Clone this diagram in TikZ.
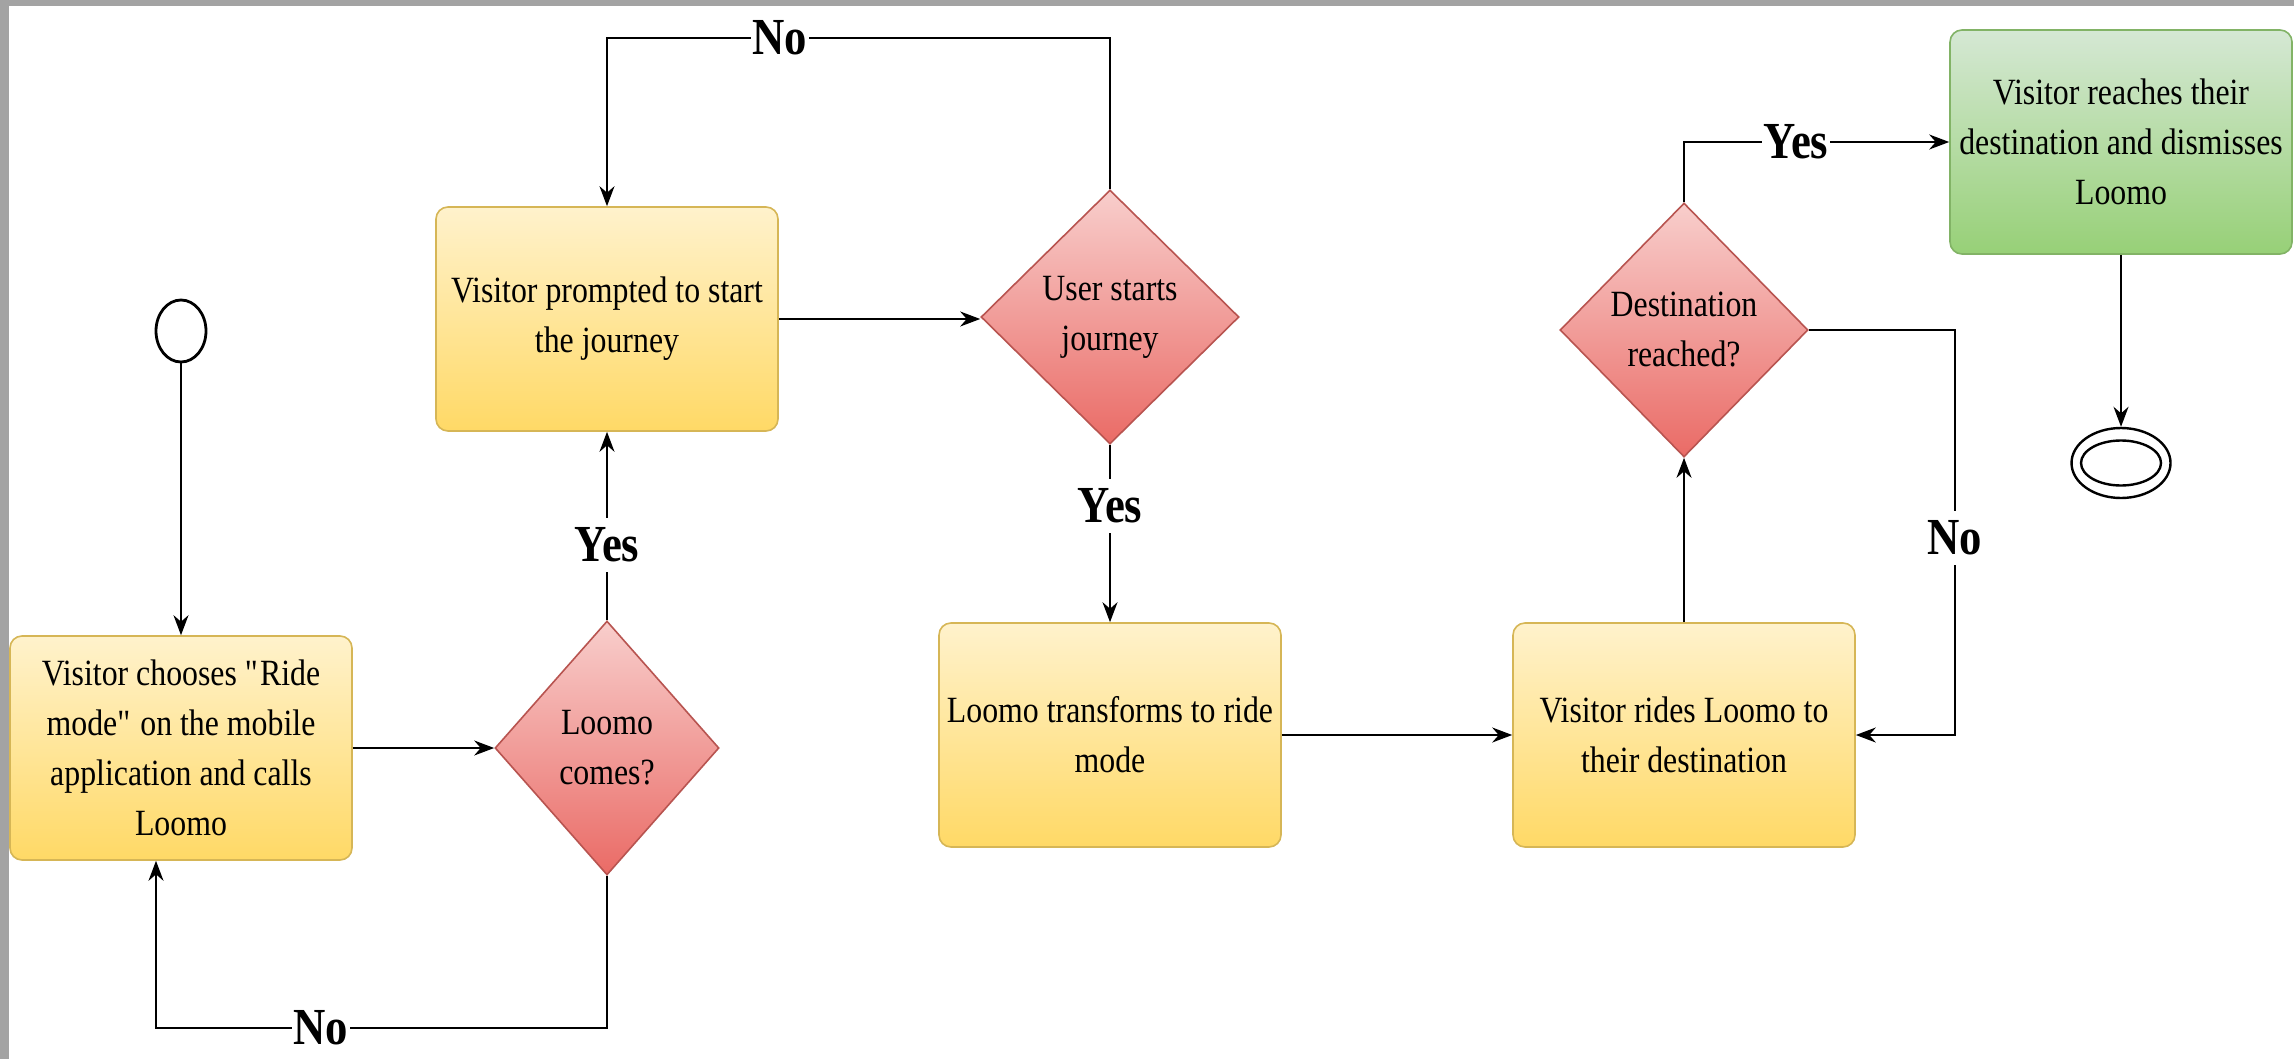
\documentclass[tikz,border=0pt]{standalone}
\usepackage{fontspec}
\setmainfont{Liberation Serif}[FakeStretch=0.86]
\usepackage{tikz}
\usetikzlibrary{shapes.geometric,arrows.meta}
\definecolor{framegray}{HTML}{A3A3A3}
\definecolor{boxtop}{HTML}{FFF2CC}
\definecolor{boxbot}{HTML}{FFD966}
\definecolor{boxline}{HTML}{D6B656}
\definecolor{redtop}{HTML}{F8CECC}
\definecolor{redbot}{HTML}{EA6B66}
\definecolor{redline}{HTML}{B85450}
\definecolor{greentop}{HTML}{D5E8D4}
\definecolor{greenbot}{HTML}{97D077}
\definecolor{greenline}{HTML}{82B366}

\begin{document}
\begin{tikzpicture}[x=0.5pt,y=-0.5pt,
    yellowbox/.style={rectangle, rounded corners=6pt, draw=boxline, line width=0.8pt,
      top color=boxtop, bottom color=boxbot, minimum width=171pt, minimum height=112pt,
      align=center, font=\fontsize{18.5}{25}\selectfont},
    greenbox/.style={yellowbox, draw=greenline, top color=greentop, bottom color=greenbot},
    decision/.style={diamond, draw=redline, line width=0.8pt, top color=redtop, bottom color=redbot,
      minimum width=112pt, minimum height=127pt, inner sep=0pt,
      align=center, font=\fontsize{18.5}{25}\selectfont},
    startnode/.style={ellipse, draw, line width=1.4pt, minimum width=25pt, minimum height=31pt, inner sep=0pt},
    endring/.style={ellipse, draw, line width=1.2pt, inner sep=0pt},
    flow/.style={line width=1pt, -{Stealth[length=10pt,width=7.5pt]}},
    answer/.style={fill=white, inner xsep=1pt, inner ysep=5pt, font=\bfseries\fontsize{26}{26}\selectfont}]
  \fill[framegray] (0,0) rectangle (2294,1059);
  \fill[white] (9,6) rectangle (2294,1059);
  \useasboundingbox (0,0) rectangle (2294,1059);

  \node[startnode] (start) at (181,331) {};
  \node[yellowbox] (choose) at (181,748) {Visitor chooses \textquotedbl Ride\\ mode\textquotedbl\ on the mobile\\ application and calls\\ Loomo};
  \node[decision] (comes) at (607,748) {Loomo\\ comes?};
  \node[yellowbox] (prompt) at (607,319) {Visitor prompted to start\\ the journey};
  \node[decision, minimum width=129pt] (starts) at (1110,317) {User starts\\ journey};
  \node[yellowbox] (transform) at (1110,735) {Loomo transforms to ride\\ mode};
  \node[yellowbox] (rides) at (1684,735) {Visitor rides Loomo to\\ their destination};
  \node[decision, minimum width=124pt] (reached) at (1684,330) {Destination\\ reached?};
  \node[greenbox] (dismiss) at (2121,142) {Visitor reaches their\\ destination and dismisses\\ Loomo};
  \node[endring, minimum width=49.5pt, minimum height=35pt] (stop) at (2121,463) {};
  \node[endring, minimum width=40pt, minimum height=22.5pt] (stopin) at (2121,463) {};

  \draw[flow] (start) -- (choose);
  \draw[flow] (choose) -- (comes);
  \coordinate (noback) at (156,1028);
  \draw[flow] (comes.south) |- (noback) -- (noback |- choose.south);
  \node[answer] (no1) at (321,1028) {No};
  \draw[flow] (comes) -- (prompt);
  \node[answer] (yes1) at (607,545) {Yes};
  \draw[flow] (prompt.east) -- (prompt.east -| starts.west);
  \coordinate (noup) at (1110,38);
  \draw[flow] (starts.north) -- (noup) -| (prompt.north);
  \node[answer] (no2) at (780,38) {No};
  \draw[flow] (starts) -- (transform);
  \node[answer] (yes2) at (1110,506) {Yes};
  \draw[flow] (transform) -- (rides);
  \draw[flow] (rides) -- (reached);
  \coordinate (noright) at (1955,330);
  \draw[flow] (reached.east) -- (noright) |- (rides.east);
  \node[answer] (no3) at (1955,538) {No};
  \draw[flow] (reached.north) |- (dismiss.west);
  \node[answer] (yes3) at (1796,142) {Yes};
  \draw[flow] (dismiss) -- (stop);
\end{tikzpicture}
\end{document}
